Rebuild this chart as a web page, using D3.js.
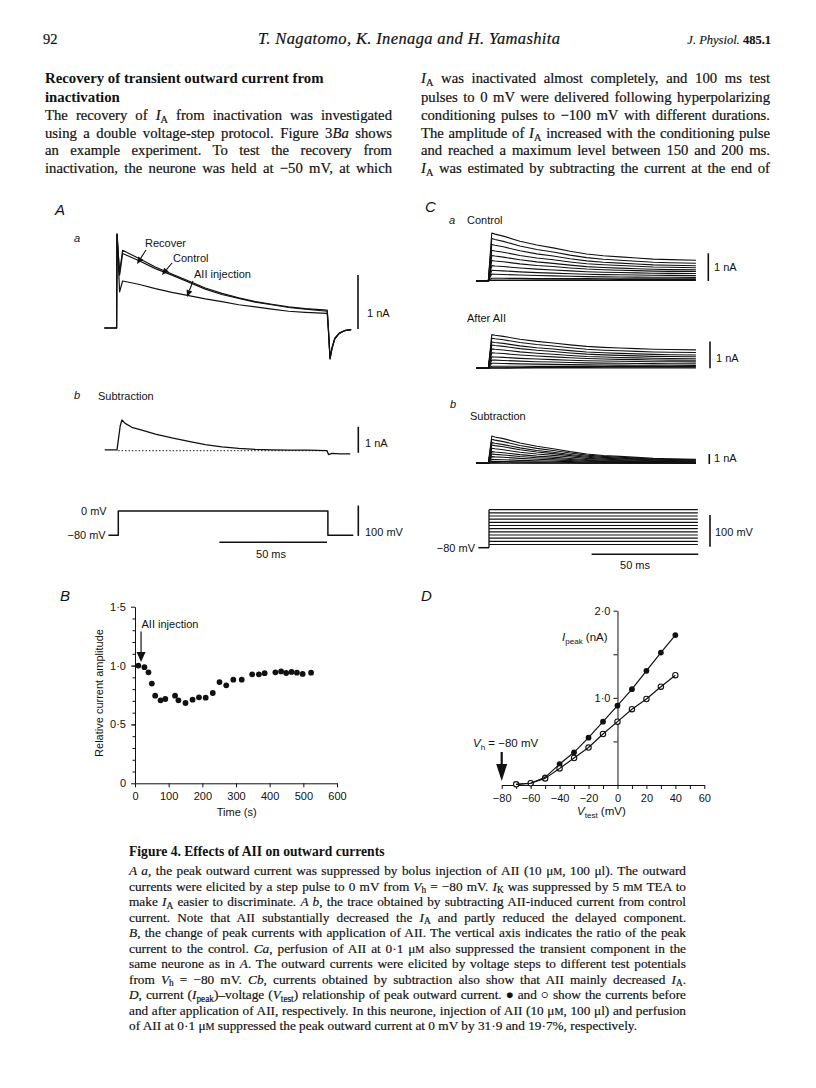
<!DOCTYPE html>
<html><head><meta charset="utf-8">
<script src="https://cdn.jsdelivr.net/npm/d3@7"></script>
<style>body{margin:0;background:#fff}svg{display:block}</style>
</head><body>
<svg id="c" width="816" height="1088"></svg>
<script>
// ================= DATA =================
// Panel B: relative current amplitude vs time
const bTime = [10,28,40,50,60,76,90,119,129,150,171,190,210,231,251,271,292,317,348,368,385,417,434,449,465,481,498,523];
const bAmp  = [1.0,0.986,0.943,0.847,0.744,0.705,0.716,0.744,0.705,0.682,0.71,0.73,0.727,0.767,0.86,0.832,0.88,0.88,0.926,0.926,0.935,0.943,0.95,0.937,0.946,0.94,0.929,0.94];
const bXTicks = [0,100,200,300,400,500,600];
const bYTicks = [0,0.5,1.0,1.5];
const bYTickLabels = ["0","0·5","1·0","1·5"];
const bInjectionTime = 18;

// Panel D: I-V relationship
const dVtest  = [-70,-60,-50,-40,-30,-20,-10,0,10,20,30,40];
const dBefore = [0.008,0.02,0.088,0.24,0.375,0.543,0.727,0.91,1.10,1.31,1.52,1.72];
const dAfter  = [0.008,0.02,0.076,0.19,0.31,0.43,0.585,0.727,0.87,0.987,1.128,1.26];
const dXTickLabels = [-80,-60,-40,-20,0,20,40,60];
const dYTicks = [1.0,2.0];
const dYTickLabels = ["1·0","2·0"];

// Panel Aa: current traces (ms, nA)
const aaTime    = [-6.5,-0.8,-0.6,0.6,2.0,9.4,17.2,24.9,32.7,40.4,48.1,55.9,63.6,71.3,79.1,86.8,97.0,97.5,98.3,99.2,100.5,102.5,105,108.1];
const aaRecover = [0,0,1.74,1.02,1.44,1.29,1.13,1.0,0.87,0.74,0.64,0.56,0.49,0.44,0.39,0.36,0.33,0.02,-0.55,-0.37,-0.19,-0.1,-0.05,-0.03];
const aaControl = [0,0,1.74,0.98,1.38,1.25,1.10,0.98,0.85,0.72,0.62,0.55,0.48,0.43,0.38,0.35,0.31,0.0,-0.57,-0.38,-0.2,-0.1,-0.05,-0.03];
const aaAII     = [0,0,1.74,0.67,0.87,0.81,0.73,0.66,0.60,0.54,0.49,0.43,0.39,0.35,0.31,0.29,0.27,-0.02,-0.57,-0.38,-0.2,-0.1,-0.05,-0.03];
// Panel Ab: subtraction trace
const abTime = [-6.3,-0.6,0.9,1.7,3.2,6.3,11,17.2,24.9,32.7,40.4,48.1,55.9,63.6,71.3,79.1,88,96.9,97.6,99.2,103,107.7];
const abSub  = [0.03,0.03,0.96,1.18,1.05,0.90,0.79,0.64,0.49,0.36,0.23,0.15,0.09,0.05,0.03,0.02,0.02,0.0,-0.15,-0.1,-0.12,-0.12];
// Panel A voltage protocol
const vaTime = [-4.6,0,0,97.3,97.3,109.1];
const vaVolt = [-80,-80,0,0,-80,-80];

// Panel C: families of traces, one per test potential (dVtest)
const cCtrlEnd = [0.01,0.04,0.07,0.12,0.19,0.26,0.33,0.39,0.47,0.54,0.63,0.74];
const cAIIEnd  = [0.01,0.04,0.07,0.11,0.17,0.24,0.30,0.36,0.43,0.50,0.59,0.69];
const cSubPeak = [0,0.07,0.2,0.4,0.67,0.93,1.17,1.5,1.83,2.07,2.4,2.73];
const cSubEnd  = [0,0,0.02,0.05,0.07,0.1,0.15,0.2,0.25,0.3,0.35,0.4];
// normalised decay
const cShapeTime = [1.3,2.8,6.7,14.5,22.4,30.1,38,45.8,53.6,61.4,69.2,77,84.9,97];
const cShapeVal  = [1,0.96,0.887,0.70,0.557,0.454,0.33,0.227,0.165,0.124,0.082,0.041,0.021,0];

// ================= TEXT =================
const leftHeading = ["Recovery of transient outward current from","inactivation"];
const leftBody = [
 "The recovery of *I*_{A} from inactivation was investigated",
 "using a double voltage-step protocol. Figure 3*Ba* shows",
 "an example experiment. To test the recovery from",
 "inactivation, the neurone was held at −50 mV, at which"];
const rightBody = [
 "*I*_{A} was inactivated almost completely, and 100 ms test",
 "pulses to 0 mV were delivered following hyperpolarizing",
 "conditioning pulses to −100 mV with different durations.",
 "The amplitude of *I*_{A} increased with the conditioning pulse",
 "and reached a maximum level between 150 and 200 ms.",
 "*I*_{A} was estimated by subtracting the current at the end of"];
const captionTitle = "Figure 4. Effects of AII on outward currents";
const captionLines = [
 "*A a*, the peak outward current was suppressed by bolus injection of AII (10 μ~{M}, 100 μl). The outward",
 "currents were elicited by a step pulse to 0 mV from *V*_{h} = −80 mV. *I*_{K} was suppressed by 5 m~{M} TEA to",
 "make *I*_{A} easier to discriminate. *A b*, the trace obtained by subtracting AII-induced current from control",
 "current. Note that AII substantially decreased the *I*_{A} and partly reduced the delayed component.",
 "*B*, the change of peak currents with application of AII. The vertical axis indicates the ratio of the peak",
 "current to the control. *Ca*, perfusion of AII at 0·1 μ~{M} also suppressed the transient component in the",
 "same neurone as in *A*. The outward currents were elicited by voltage steps to different test potentials",
 "from *V*_{h} = −80 mV. *Cb*, currents obtained by subtraction also show that AII mainly decreased *I*_{A}.",
 "*D*, current (*I*_{peak})–voltage (*V*_{test}) relationship of peak outward current. ● and ○ show the currents before",
 "and after application of AII, respectively. In this neurone, injection of AII (10 μ~{M}, 100 μl) and perfusion",
 "of AII at 0·1 μ~{M} suppressed the peak outward current at 0 mV by 31·9 and 19·7%, respectively."];

// ================= DRAW =================
const svg = d3.select('#c');
const SERIF = "'Liberation Serif','Times New Roman',serif";
const SANS = "'Liberation Sans',Arial,sans-serif";
const INK = "#111";

function rich(g, x, y, str, o) {
  o = o || {};
  const t = g.append('text').attr('x', x).attr('y', y)
    .attr('font-family', o.family || SERIF).attr('font-size', o.size || 14).attr('fill', INK);
  if (o.weight) t.attr('font-weight', o.weight);
  if (o.style) t.attr('font-style', o.style);
  if (o.anchor) t.attr('text-anchor', o.anchor);
  if (o.heavy) t.attr('stroke', INK).attr('stroke-width', o.heavy);
  const re = /(\*\*[^*]+\*\*|\*[^*]+\*|_\{[^}]*\}|~\{[^}]*\})/g;
  const parts = str.split(re).filter(s => s && s.length);
  let down = 0; let plain = "";
  const sh = o.subShift || 3;
  parts.forEach(p => {
    const ts = t.append('tspan');
    let txt = p, isSub = false;
    if (p.startsWith('**')) { txt = p.slice(2, -2); ts.attr('font-weight', 'bold'); }
    else if (p.startsWith('*')) { txt = p.slice(1, -1); ts.attr('font-style', 'italic'); }
    else if (p.startsWith('_{')) { txt = p.slice(2, -1); isSub = true; ts.attr('font-size', '70%').attr('font-style','normal'); }
    else if (p.startsWith('~{')) { txt = p.slice(2, -1); ts.attr('font-size', '76%'); }
    if (isSub) { ts.attr('dy', sh - down); down = sh; }
    else if (down) { ts.attr('dy', -down); down = 0; }
    ts.text(txt); plain += txt;
  });
  if (o.justify) {
    const len = t.node().getComputedTextLength();
    const n = (plain.match(/ /g) || []).length;
    if (n) t.attr('word-spacing', ((o.justify - len) / n).toFixed(3));
  }
  return t;
}

// ---- header ----
rich(svg, 43, 44, "92", {size: 14.5, heavy: 0.2});
const title = rich(svg, 258, 44, "T. Nagatomo, K. Inenaga and H. Yamashita", {size: 16.5, style: 'italic', heavy: 0.2});
title.attr('textLength', 302).attr('lengthAdjust', 'spacing');
rich(svg, 771, 44, "*J. Physiol.* **485.1**", {size: 12.5, anchor: 'end', heavy: 0.15});

// ---- body text ----
const bodyY = [83, 101.5, 120, 137.5, 155, 172.5];
leftHeading.forEach((l, i) => rich(svg, 45, bodyY[i], l, {size: 14.8, weight: 'bold'}));
leftBody.forEach((l, i) => rich(svg, 45, bodyY[i + 2], l, {size: 14.7, justify: 347, heavy: 0.2}));
rightBody.forEach((l, i) => rich(svg, 421, bodyY[i], l, {size: 14.7, justify: 349, heavy: 0.2}));

// ---- caption ----
rich(svg, 129, 856, captionTitle, {size: 13.6, weight: 'bold'});
captionLines.forEach((l, i) => {
  rich(svg, 129, 875 + i * 15.5, l, {size: 13.3, heavy: 0.18, justify: i < captionLines.length - 1 ? 557 : null, subShift: 2.5});
});

// ---- helpers ----
function label(x, y, s, o) { return rich(svg, x, y, s, Object.assign({family: SANS, size: 10.5}, o || {})); }
function vbar(x, y1, y2) { svg.append('line').attr('x1', x).attr('x2', x).attr('y1', y1).attr('y2', y2).attr('stroke', INK).attr('stroke-width', 1.6); }
function hbar(y, x1, x2) { svg.append('line').attr('x1', x1).attr('x2', x2).attr('y1', y).attr('y2', y).attr('stroke', INK).attr('stroke-width', 1.6); }
function path(d, w, dash) {
  const p = svg.append('path').attr('d', d).attr('fill', 'none').attr('stroke', INK).attr('stroke-width', w || 1.1).attr('stroke-linejoin', 'round');
  if (dash) p.attr('stroke-dasharray', dash);
  return p;
}
function arrow(x1, y1, x2, y2, hl, hw, sw) {
  const a = Math.atan2(y2 - y1, x2 - x1);
  const bx = x2 - hl * Math.cos(a), by = y2 - hl * Math.sin(a);
  svg.append('line').attr('x1', x1).attr('y1', y1).attr('x2', bx).attr('y2', by).attr('stroke', INK).attr('stroke-width', sw || 1);
  const px = -Math.sin(a) * hw / 2, py = Math.cos(a) * hw / 2;
  svg.append('polygon').attr('points', `${x2},${y2} ${bx + px},${by + py} ${bx - px},${by - py}`).attr('fill', INK);
}

// ================= PANEL A =================
const xA = d3.scaleLinear().domain([0, 100]).range([118.3, 333.7]);
const yAa = d3.scaleLinear().domain([0, 1]).range([328, 274]);
const yAb = d3.scaleLinear().domain([0, 1]).range([450.7, 424.7]);
const yVA = d3.scaleLinear().domain([-80, 0]).range([535.3, 511]);

label(55, 215, "*A*", {size: 15});
label(74, 242, "*a*", {size: 11});
[aaRecover, aaControl, aaAII].forEach(series => {
  path(d3.line().x((d, i) => xA(aaTime[i])).y(d => yAa(d))(series), 1.2);
});
label(145, 247, "Recover", {size: 11});
label(173, 261.5, "Control", {size: 11});
label(194, 278, "AII injection", {size: 11});
arrow(146, 250, 137, 264, 7, 6, 1.1);
arrow(172, 263, 162, 275, 7, 6, 1.1);
arrow(193, 281, 187, 297, 7, 6, 1.1);
vbar(358, yAa(-0.02), yAa(0.98));
label(367, 317, "1 nA", {size: 11});

label(74, 399, "*b*", {size: 11});
label(98, 400, "Subtraction", {size: 11});
path(d3.line().x((d, i) => xA(abTime[i])).y(d => yAb(d))(abSub), 1.3);
path(d3.line().x(d => xA(d)).y(() => yAb(0))([0, 97]), 1, "1.4,2");
vbar(358.3, yAb(-0.08), yAb(0.92));
label(365, 447, "1 nA", {size: 11});

path(d3.line().x((d, i) => xA(vaTime[i])).y(d => yVA(d))(vaVolt), 1.5);
label(106.7, 515, "0 mV", {size: 11, anchor: 'end'});
label(105.7, 539, "−80 mV", {size: 11, anchor: 'end'});
vbar(358.3, yVA(-82), yVA(18));
label(365, 535.5, "100 mV", {size: 11});
hbar(542.3, xA(46.9), xA(96.9));
label(271, 558, "50 ms", {size: 11, anchor: 'middle'});

// ================= PANEL C =================
const xC = d3.scaleLinear().domain([0, 100]).range([489, 702.3]);
const yCa = d3.scaleLinear().domain([0, 1]).range([280.7, 253.0]);
const yCaa = d3.scaleLinear().domain([0, 1]).range([368.3, 341.6]);
const yCb = d3.scaleLinear().domain([0, 1]).range([463.3, 453.3]);
const yVC = d3.scaleLinear().domain([-80, 20]).range([547.7, 516.0]);

function cTrace(peak, end) {
  const pts = [[-6.1, 0], [-0.3, 0]];
  cShapeTime.forEach((t, i) => pts.push([t, end + (peak - end) * cShapeVal[i]]));
  return pts;
}
function family(y, peaks, ends) {
  peaks.forEach((p, i) => {
    path(d3.line().x(d => xC(d[0])).y(d => y(d[1]))(cTrace(p, ends[i])), 1.1);
  });
}
label(425, 212, "*C*", {size: 15});
label(449, 224, "*a*", {size: 11});
label(467, 224, "Control", {size: 11});
family(yCa, dBefore, cCtrlEnd);
vbar(708.3, yCa(-0.01), yCa(0.99));
label(714, 270.5, "1 nA", {size: 11});

label(467, 322, "After AII", {size: 11});
family(yCaa, dAfter, cAIIEnd);
vbar(710, yCaa(0), yCaa(1));
label(716, 362, "1 nA", {size: 11});

label(450, 408, "*b*", {size: 11});
label(470, 420, "Subtraction", {size: 11});
family(yCb, cSubPeak, cSubEnd);
vbar(709.3, yCb(-0.07), yCb(0.93));
label(714, 462, "1 nA", {size: 11});

// voltage protocol C
path(d3.line().x(d => xC(d)).y(() => yVC(-80))([-5, 0]), 1.5);
path(d3.line().x(() => xC(0)).y(d => yVC(d))([-80, d3.max(dVtest)]), 1.3);
dVtest.forEach(v => path(d3.line().x(d => xC(d)).y(() => yVC(v))([0, 97.9]), 1.15));
label(475, 551.5, "−80 mV", {size: 11, anchor: 'end'});
vbar(710, yVC(-77), yVC(23));
label(715, 535.5, "100 mV", {size: 11});
hbar(554.3, xC(48.1), xC(98.1));
label(635, 569, "50 ms", {size: 11, anchor: 'middle'});

// ================= PANEL B =================
const xB = d3.scaleLinear().domain([0, 600]).range([135, 337]);
const yB = d3.scaleLinear().domain([0, 1.5]).range([783.3, 606.7]);
label(60, 601, "*B*", {size: 15});
const gB = svg.append('g');
gB.append('g').attr('transform', `translate(0,${yB(0)})`)
  .call(d3.axisBottom(xB).tickValues(bXTicks).tickSize(4).tickSizeOuter(0).tickPadding(5));
gB.append('g').attr('transform', `translate(${xB(0)},0)`)
  .call(d3.axisLeft(yB).tickValues(bYTicks).tickFormat((d, i) => bYTickLabels[i]).tickSize(4).tickSizeOuter(0).tickPadding(5));
gB.append('g').attr('transform', `translate(${xB(0)},0)`)
  .call(d3.axisLeft(yB).tickValues(d3.range(0.1, 1.5, 0.1)).tickFormat('').tickSize(2.5).tickSizeOuter(0))
  .select('.domain').remove();
gB.selectAll('.domain,.tick line').attr('stroke', INK).attr('stroke-width', 1);
gB.selectAll('text').attr('font-family', SANS).attr('font-size', 11).attr('fill', INK);
gB.selectAll('circle.b').data(bTime).join('circle').attr('class', 'b')
  .attr('cx', d => xB(d)).attr('cy', (d, i) => yB(bAmp[i])).attr('r', 2.9).attr('fill', INK);
arrow(xB(bInjectionTime), 631.5, xB(bInjectionTime), yB(1.03), 10, 9, 1.2);
label(141.5, 628, "AII injection", {size: 11});
label(236.7, 815.5, "Time (s)", {anchor: 'middle', size: 11});
label(0, 0, "Relative current amplitude", {anchor: 'middle', size: 11})
  .attr('transform', 'translate(103,693) rotate(-90)');

// ================= PANEL D =================
const xD = d3.scaleLinear().domain([-80, 60]).range([501.7, 704.3]);
const yD = d3.scaleLinear().domain([0, 2]).range([785, 610.7]);
label(421, 601, "*D*", {size: 15});
const gD = svg.append('g');
const fmtD = v => (v < 0 ? "−" + Math.abs(v) : String(v));
gD.append('g').attr('transform', `translate(0,${yD(0)})`)
  .call(d3.axisBottom(xD).tickValues(d3.range(-80, 61, 10))
    .tickFormat(v => dXTickLabels.includes(v) ? fmtD(v) : "").tickSize(4).tickSizeOuter(0).tickPadding(5));
gD.append('g').attr('transform', `translate(${xD(0)},0)`)
  .call(d3.axisLeft(yD).tickValues([0.5, 1.0, 1.5, 2.0])
    .tickFormat(v => { const k = dYTicks.indexOf(v); return k >= 0 ? dYTickLabels[k] : ""; })
    .tickSize(4).tickSizeOuter(0).tickPadding(3));
gD.selectAll('.domain,.tick line').attr('stroke', INK).attr('stroke-width', 1);
gD.selectAll('text').attr('font-family', SANS).attr('font-size', 11).attr('fill', INK);
const lineD = d3.line().x((d, i) => xD(dVtest[i])).y(d => yD(d));
path(lineD(dBefore), 1.2);
path(lineD(dAfter), 1.2);
gD.selectAll('circle.f').data(dBefore).join('circle').attr('class', 'f')
  .attr('cx', (d, i) => xD(dVtest[i])).attr('cy', d => yD(d)).attr('r', 2.9).attr('fill', INK);
gD.selectAll('circle.o').data(dAfter).join('circle').attr('class', 'o')
  .attr('cx', (d, i) => xD(dVtest[i])).attr('cy', d => yD(d)).attr('r', 2.7)
  .attr('fill', '#fff').attr('stroke', INK).attr('stroke-width', 1.1);
label(562, 641, "*I*_{peak} (nA)", {size: 11.5, subShift: 2.5});
label(473, 747, "*V*_{h} = −80 mV", {size: 11.5, subShift: 2.5});
arrow(xD(-80), 752, xD(-80), 781, 17, 11, 2.2);
label(577, 815, "*V*_{test}  (mV)", {size: 11.5, subShift: 2.5});
</script>
</body></html>
